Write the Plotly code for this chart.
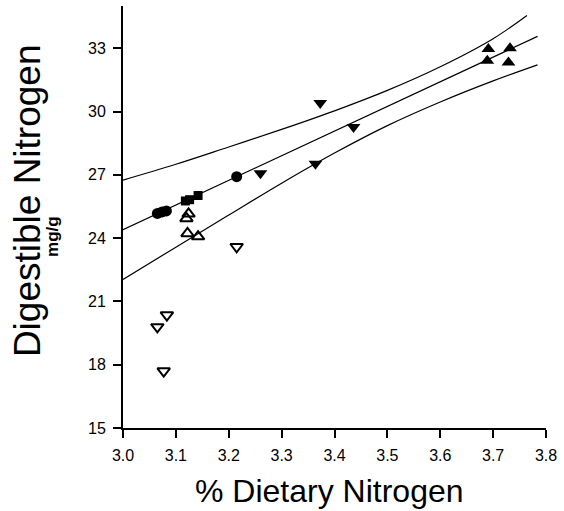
import plotly.graph_objects as go

# ---- data ----
filled_circle_x = [3.065, 3.074, 3.082, 3.215]
filled_circle_y = [25.17, 25.24, 25.29, 26.91]

filled_square_x = [3.118, 3.126, 3.142]
filled_square_y = [25.76, 25.82, 26.02]

filled_up_x = [3.691, 3.732, 3.689, 3.729]
filled_up_y = [32.96, 33.00, 32.40, 32.32]

filled_down_x = [3.373, 3.436, 3.364, 3.260]
filled_down_y = [30.40, 29.26, 27.52, 27.07]

open_up_x = [3.124, 3.120, 3.122, 3.142]
open_up_y = [25.15, 24.93, 24.22, 24.07]

open_down_x = [3.215, 3.083, 3.065, 3.077]
open_down_y = [23.59, 20.35, 19.79, 17.70]

fit_x = [3.0, 3.784]
fit_y = [24.40, 33.56]

upper_x = [3.0, 3.1, 3.2, 3.3, 3.4, 3.5, 3.6, 3.7, 3.764]
upper_y = [26.75, 27.50, 28.32, 29.15, 30.03, 31.00, 32.12, 33.45, 34.55]

lower_x = [3.0, 3.1, 3.2, 3.3, 3.4, 3.5, 3.6, 3.7, 3.784]
lower_y = [22.04, 23.57, 25.09, 26.60, 28.03, 29.33, 30.45, 31.45, 32.21]

x_ticks = [3.0, 3.1, 3.2, 3.3, 3.4, 3.5, 3.6, 3.7, 3.8]
x_tick_labels = ["3.0", "3.1", "3.2", "3.3", "3.4", "3.5", "3.6", "3.7", "3.8"]
y_ticks = [15, 18, 21, 24, 27, 30, 33]
y_tick_labels = ["15", "18", "21", "24", "27", "30", "33"]

FONT = "Liberation Sans, Arial, Helvetica, sans-serif"

fig = go.Figure()

line_style = dict(color="black", width=1.2)
fig.add_trace(go.Scatter(x=upper_x, y=upper_y, mode="lines", line=dict(shape="spline", **line_style)))
fig.add_trace(go.Scatter(x=fit_x, y=fit_y, mode="lines", line=line_style))
fig.add_trace(go.Scatter(x=lower_x, y=lower_y, mode="lines", line=dict(shape="spline", **line_style)))

fig.add_trace(go.Scatter(x=filled_circle_x, y=filled_circle_y, mode="markers",
                         marker=dict(symbol="circle", size=11, color="black", line=dict(width=0))))
fig.add_trace(go.Scatter(x=filled_square_x, y=filled_square_y, mode="markers",
                         marker=dict(symbol="square", size=9, color="black", line=dict(width=0))))
fig.add_trace(go.Scatter(x=filled_up_x, y=filled_up_y, mode="markers",
                         marker=dict(symbol="triangle-up", size=12, color="black", line=dict(width=0))))
fig.add_trace(go.Scatter(x=filled_down_x, y=filled_down_y, mode="markers",
                         marker=dict(symbol="triangle-down", size=12, color="black", line=dict(width=0))))
fig.add_trace(go.Scatter(x=open_up_x, y=open_up_y, mode="markers",
                         marker=dict(symbol="triangle-up-open", size=11, color="black", line=dict(width=2, color="black"))))
fig.add_trace(go.Scatter(x=open_down_x, y=open_down_y, mode="markers",
                         marker=dict(symbol="triangle-down-open", size=11, color="black", line=dict(width=2, color="black"))))

fig.update_layout(
    width=564, height=511,
    margin=dict(l=123, r=18, t=6, b=83),
    paper_bgcolor="white", plot_bgcolor="white",
    showlegend=False,
    font=dict(family=FONT, color="black"),
    xaxis=dict(range=[3.0, 3.8], tickvals=x_ticks, ticktext=x_tick_labels,
               showgrid=False, zeroline=False, showline=True, linecolor="black", linewidth=2,
               ticks="outside", ticklen=8, tickwidth=1.5, tickcolor="black",
               tickfont=dict(size=16, family=FONT, color="black"), ticklabelstandoff=4),
    yaxis=dict(range=[15, 35], tickvals=y_ticks, ticktext=y_tick_labels,
               showgrid=False, zeroline=False, showline=True, linecolor="black", linewidth=2,
               ticks="outside", ticklen=8, tickwidth=1.5, tickcolor="black",
               tickfont=dict(size=16, family=FONT, color="black"), ticklabelstandoff=4),
    annotations=[
        dict(text="% Dietary Nitrogen", xref="paper", yref="paper", x=0.487, y=-0.149,
             xanchor="center", yanchor="middle", showarrow=False,
             font=dict(size=32, family=FONT, color="black")),
        dict(text="Digestible Nitrogen", xref="paper", yref="paper", x=-0.227, y=0.540,
             xanchor="center", yanchor="middle", showarrow=False, textangle=-90,
             font=dict(size=37, family=FONT, color="black")),
        dict(text="<b>mg/g</b>", xref="paper", yref="paper", x=-0.1655, y=0.455,
             xanchor="center", yanchor="middle", showarrow=False, textangle=-90,
             font=dict(size=17, family=FONT, color="black")),
    ],
)

fig.write_html("out.html",
               config={"displayModeBar": False},
               post_script="document.body.style.margin='0';document.body.style.padding='0';")
